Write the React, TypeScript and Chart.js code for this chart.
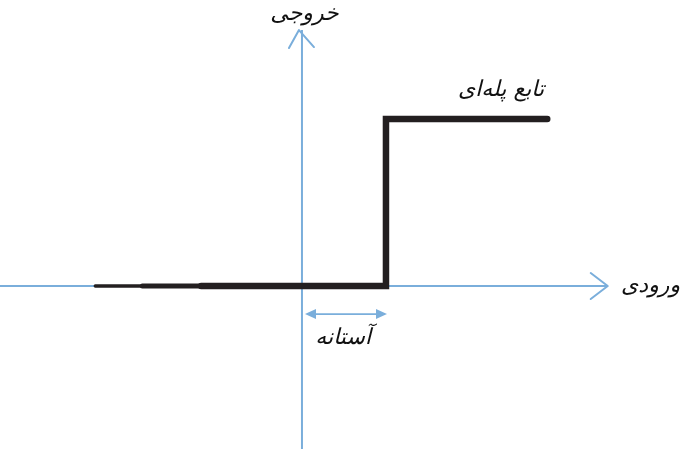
import React, { useEffect, useRef } from "react";
import { Chart, registerables } from "chart.js";

Chart.register(...registerables);

// Data-space extent (x: input, y: output)
const xLimits = [-3.595, 4.56];
const yLimits = [-0.976, 1.713];

// Step function: output 0 below threshold, 1 above
const stepX = [-2.46, -1.9, -1.2, 1, 1, 2.92];
const stepY = [0, 0, 0, 0, 1, 1];
const stepWidths = [3.5, 5, 6.5, 6.5, 6.5];

// Axes (ends in data units)
const xAxisLine = [-3.595, 3.64];
const yAxisLine = [-0.976, 1.533];

// Threshold marker
const thresholdArrowY = -0.168;
const thresholdArrowX = [0.036, 1.012];

// Labels: text, x, y
const labelTexts = ["خروجی", "تابع پله‌ای", "ورودی", "آستانه"];
const labelX = [0.03, 2.37, 4.15, 0.49];
const labelY = [1.63, 1.17, 0.0, -0.31];

const AXIS = "#7aaedb";
const INK = "#231f20";

const decorPlugin = {
  id: "decor",
  afterDatasetsDraw(chart: any) {
    const { ctx, scales } = chart;
    const xs = scales.x;
    const ys = scales.y;
    const px = (v: number) => xs.getPixelForValue(v);
    const py = (v: number) => ys.getPixelForValue(v);
    ctx.save();
    ctx.strokeStyle = AXIS;
    ctx.fillStyle = AXIS;
    ctx.lineWidth = 2;
    ctx.lineCap = "round";
    ctx.lineJoin = "round";
    // x-axis arrowhead (open chevron)
    const xt = px(xAxisLine[1]);
    const x0 = py(0);
    ctx.beginPath();
    ctx.moveTo(xt - 17, x0 - 13);
    ctx.lineTo(xt, x0);
    ctx.lineTo(xt - 17, x0 + 13);
    ctx.stroke();
    // y-axis arrowhead
    const yt = py(yAxisLine[1]);
    const y0 = px(0);
    ctx.beginPath();
    ctx.moveTo(y0 - 13, yt + 18);
    ctx.lineTo(y0 - 3, yt);
    ctx.lineTo(y0 + 12, yt + 17);
    ctx.stroke();
    // threshold double arrow
    const ay = py(thresholdArrowY);
    const a1 = px(thresholdArrowX[0]);
    const a2 = px(thresholdArrowX[1]);
    ctx.lineWidth = 1.6;
    ctx.beginPath();
    ctx.moveTo(a1 + 6, ay);
    ctx.lineTo(a2 - 6, ay);
    ctx.stroke();
    ctx.beginPath();
    ctx.moveTo(a1, ay);
    ctx.lineTo(a1 + 11, ay - 5);
    ctx.lineTo(a1 + 11, ay + 5);
    ctx.closePath();
    ctx.fill();
    ctx.beginPath();
    ctx.moveTo(a2, ay);
    ctx.lineTo(a2 - 11, ay - 5);
    ctx.lineTo(a2 - 11, ay + 5);
    ctx.closePath();
    ctx.fill();
    // labels
    ctx.fillStyle = "#111";
    ctx.font = "italic 22px 'DejaVu Sans'";
    ctx.textAlign = "center";
    ctx.textBaseline = "middle";
    (ctx as any).direction = "rtl";
    labelTexts.forEach((t, i) => {
      ctx.fillText(t, px(labelX[i]), py(labelY[i]));
    });
    ctx.restore();
  },
};

export default function App() {
  const ref = useRef<HTMLCanvasElement | null>(null);
  useEffect(() => {
    if (!ref.current) return;
    const chart = new Chart(ref.current, {
      type: "line",
      data: {
        datasets: [
          {
            data: stepX.map((x, i) => ({ x, y: stepY[i] })),
            borderColor: INK,
            borderWidth: 6.5,
            pointRadius: 0,
            borderJoinStyle: "miter",
            borderCapStyle: "round",
            tension: 0,
            order: 0,
            segment: {
              borderWidth: (c: any) => stepWidths[c.p0DataIndex] ?? 6.5,
            },
          } as any,
          {
            data: xAxisLine.map((x) => ({ x, y: 0 })),
            borderColor: AXIS,
            borderWidth: 2,
            pointRadius: 0,
            order: 1,
          },
          {
            data: yAxisLine.map((y) => ({ x: 0, y })),
            borderColor: AXIS,
            borderWidth: 2,
            pointRadius: 0,
            order: 1,
          },
        ],
      },
      options: {
        animation: false,
        responsive: true,
        maintainAspectRatio: false,
        layout: { padding: 0 },
        plugins: { legend: { display: false }, tooltip: { enabled: false } },
        scales: {
          x: { type: "linear", min: xLimits[0], max: xLimits[1], display: false },
          y: { type: "linear", min: yLimits[0], max: yLimits[1], display: false },
        },
      },
      plugins: [decorPlugin],
    });
    return () => chart.destroy();
  }, []);
  return (
    <div
      style={{
        position: "fixed",
        left: 0,
        top: 0,
        width: 685,
        height: 449,
        background: "#fff",
      }}
    >
      <canvas ref={ref} />
    </div>
  );
}
